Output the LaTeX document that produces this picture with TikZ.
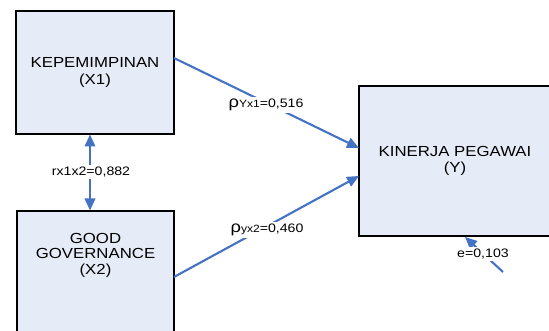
\documentclass[tikz,border=0pt]{standalone}
\usepackage{fontspec}
\setmainfont{Liberation Sans}[FakeStretch=1.15]
\usetikzlibrary{arrows.meta}
\definecolor{boxfill}{RGB}{230,236,247}
\definecolor{arrowblue}{RGB}{68,114,196}
\tikzset{
  box/.style={draw=black, line width=2.2pt, fill=boxfill, inner sep=0pt, align=center,
    font=\fontsize{14.6}{16.5}\selectfont},
  boxtext/.style={align=center, inner sep=0pt, font=\fontsize{14.6}{15.5}\selectfont},
  conn/.style={draw=arrowblue, line width=2.1pt, -{Triangle[length=12pt,width=10.5pt]}},
  biconn/.style={draw=arrowblue, line width=2.1pt, {Triangle[length=12pt,width=10.5pt]}-{Triangle[length=12pt,width=10.5pt]}},
  lbl/.style={fill=white, inner sep=2pt, font=\fontsize{12.3}{14}\selectfont},
}
\newcommand{\rhosym}{{\fontsize{16}{16}\selectfont ρ}}
\newcommand{\smallsub}[1]{{\fontsize{10.5}{12}\selectfont #1}}
\begin{document}
\begin{tikzpicture}[x=1pt, y=-1pt]
  \useasboundingbox (0,0) rectangle (549,331);
  \clip (0,0) rectangle (549,331);
  % boxes
  \node[box, minimum width=158pt, minimum height=123pt] (X1) at (95,72.5) {KEPEMIMPINAN\\(X1)};
  \node[box, minimum width=157pt, minimum height=134pt] (X2) at (95.5,278) {};
  \node[boxtext] (X2t) at (95.5,255) {GOOD\\GOVERNANCE\\(X2)};
  \node[box, minimum width=192pt, minimum height=150pt] (Y) at (455,161) {KINERJA PEGAWAI\\(Y)};
  % connector end points
  \coordinate (a1) at (174,58);
  \coordinate (b1) at (359,148);
  \coordinate (a2) at (174,277);
  \coordinate (b2) at (359,176);
  \coordinate (c1) at (90,134.5);
  \coordinate (c2) at (90,210.5);
  \coordinate (e0) at (503,272);
  \coordinate (e1) at (465,237);
  % connectors
  \draw[conn] (a1) -- (b1);
  \draw[conn] (a2) -- (b2);
  \draw[biconn] (c1) -- (c2);
  \draw[conn] (e0) -- (e1);
  % labels
  \node[lbl] (l1) at (266,105) {\rhosym\smallsub{Yx1}=0,516};
  \node[lbl] (l2) at (267,230) {\rhosym\smallsub{yx2}=0,460};
  \node[lbl] (l3) at (91,172) {rx1x2=0,882};
  \node[lbl] (l4) at (483,254) {e=0,103};
\end{tikzpicture}
\end{document}
